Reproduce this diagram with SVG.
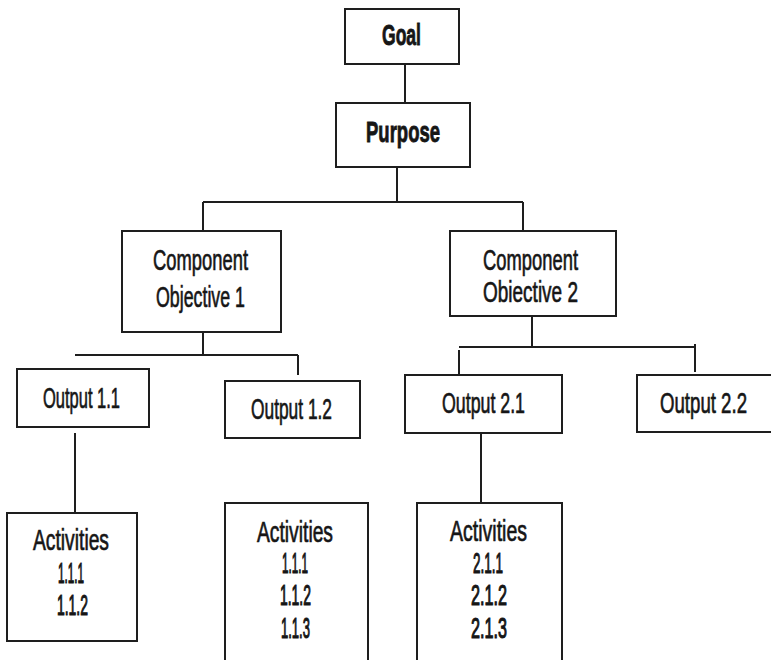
<svg xmlns="http://www.w3.org/2000/svg" width="771" height="660" viewBox="0 0 771 660">
  <style>
    .box { fill: #ffffff; stroke: #1e1e1e; stroke-width: 2; }
    .conn { stroke: #1e1e1e; stroke-width: 2; fill: none; }
    .lbl { font-family: "Liberation Sans", Arial, sans-serif; font-size: 30px; fill: #161616; stroke: #161616; stroke-width: 0.7px; }
    .bold { font-weight: bold; stroke-width: 0.9px; }
    .num { stroke-width: 1.2px; }
  </style>
  <rect width="771" height="660" fill="#ffffff"/>

  <!-- connectors -->
  <g id="connectors" class="conn">
    <line x1="405" y1="64" x2="405" y2="103"/>
    <line x1="397" y1="167" x2="397" y2="202"/>
    <line x1="203" y1="202" x2="523" y2="202"/>
    <line x1="203" y1="202" x2="203" y2="231"/>
    <line x1="523" y1="202" x2="523" y2="231"/>
    <line x1="203" y1="328" x2="203" y2="355"/>
    <line x1="75" y1="355" x2="298" y2="355"/>
    <line x1="298" y1="355" x2="298" y2="375"/>
    <line x1="532" y1="316" x2="532" y2="347"/>
    <line x1="459" y1="347" x2="695" y2="347"/>
    <line x1="459" y1="350" x2="459" y2="375"/>
    <line x1="695" y1="344" x2="695" y2="372"/>
    <line x1="75" y1="433" x2="75" y2="513"/>
    <line x1="481" y1="433" x2="481" y2="503"/>
  </g>

  <g id="goal">
    <rect class="box" x="345" y="9" width="114" height="55"/>
    <text class="lbl bold" x="382" y="45" textLength="39" lengthAdjust="spacingAndGlyphs">Goal</text>
  </g>

  <g id="purpose">
    <rect class="box" x="336" y="103" width="134" height="64"/>
    <text class="lbl bold" x="366" y="142" textLength="74" lengthAdjust="spacingAndGlyphs">Purpose</text>
  </g>

  <g id="component-1">
    <rect class="box" x="122" y="231" width="159" height="101"/>
    <text class="lbl" x="153" y="270" textLength="95" lengthAdjust="spacingAndGlyphs">Component</text>
    <text class="lbl" x="156" y="307" textLength="89" lengthAdjust="spacingAndGlyphs">Objective 1</text>
  </g>

  <g id="component-2">
    <rect class="box" x="450" y="231" width="166" height="85"/>
    <text class="lbl" x="483" y="270" textLength="95" lengthAdjust="spacingAndGlyphs">Component</text>
    <text class="lbl" x="483" y="302" textLength="95" lengthAdjust="spacingAndGlyphs">Obiective 2</text>
  </g>

  <g id="output-1-1">
    <rect class="box" x="17" y="369" width="132" height="58"/>
    <text class="lbl" x="43" y="408" textLength="77" lengthAdjust="spacingAndGlyphs">Output 1.1</text>
  </g>

  <g id="output-1-2">
    <rect class="box" x="225" y="381" width="135" height="57"/>
    <text class="lbl" x="251" y="419" textLength="81" lengthAdjust="spacingAndGlyphs">Output 1.2</text>
  </g>

  <g id="output-2-1">
    <rect class="box" x="405" y="375" width="157" height="58"/>
    <text class="lbl" x="442" y="413" textLength="83" lengthAdjust="spacingAndGlyphs">Output 2.1</text>
  </g>

  <g id="output-2-2">
    <rect class="box" x="637" y="375" width="140" height="57"/>
    <text class="lbl" x="660" y="413" textLength="87" lengthAdjust="spacingAndGlyphs">Output 2.2</text>
  </g>

  <g id="activities-1-1">
    <rect class="box" x="7" y="513" width="130" height="128"/>
    <text class="lbl" x="33" y="550" textLength="76" lengthAdjust="spacingAndGlyphs">Activities</text>
    <text class="lbl num" x="58" y="583" textLength="26" lengthAdjust="spacingAndGlyphs">1.1.1</text>
    <text class="lbl num" x="57" y="615" textLength="31" lengthAdjust="spacingAndGlyphs">1.1.2</text>
  </g>

  <g id="activities-1-2">
    <rect class="box" x="225" y="503" width="143" height="170"/>
    <text class="lbl" x="257" y="542" textLength="76" lengthAdjust="spacingAndGlyphs">Activities</text>
    <text class="lbl num" x="282" y="573" textLength="26" lengthAdjust="spacingAndGlyphs">1.1.1</text>
    <text class="lbl num" x="280" y="605" textLength="31" lengthAdjust="spacingAndGlyphs">1.1.2</text>
    <text class="lbl num" x="281" y="638" textLength="29" lengthAdjust="spacingAndGlyphs">1.1.3</text>
  </g>

  <g id="activities-2-1">
    <rect class="box" x="417" y="503" width="145" height="170"/>
    <text class="lbl" x="450" y="541" textLength="77" lengthAdjust="spacingAndGlyphs">Activities</text>
    <text class="lbl num" x="473" y="573" textLength="30" lengthAdjust="spacingAndGlyphs">2.1.1</text>
    <text class="lbl num" x="471" y="605" textLength="36" lengthAdjust="spacingAndGlyphs">2.1.2</text>
    <text class="lbl num" x="471" y="638" textLength="36" lengthAdjust="spacingAndGlyphs">2.1.3</text>
  </g>
</svg>
